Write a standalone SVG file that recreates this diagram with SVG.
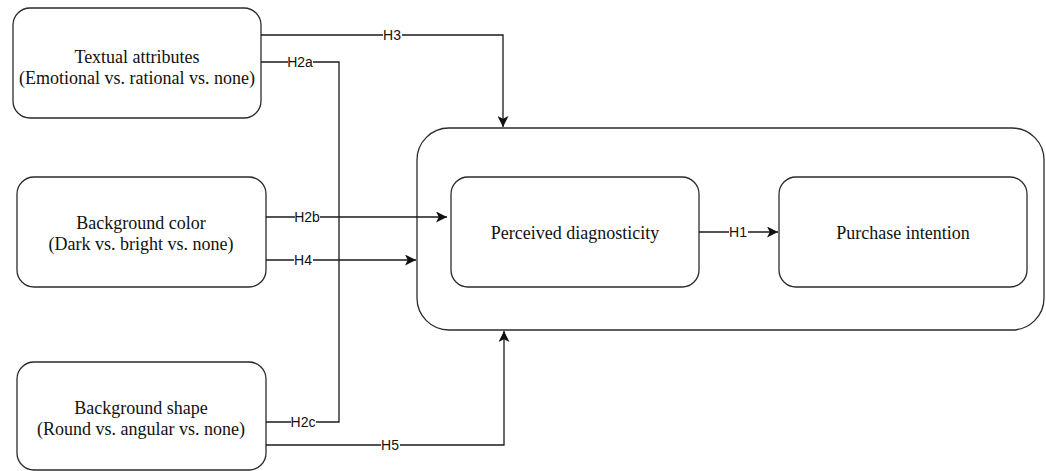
<svg xmlns="http://www.w3.org/2000/svg" width="1046" height="471" viewBox="0 0 1046 471">
<style>
.box{fill:#fff;stroke:#2b2b2b;stroke-width:1.3}
.t{font-family:"Liberation Serif","Times New Roman",serif;font-size:18px;fill:#111;text-anchor:middle}
.e{fill:none;stroke:#1a1a1a;stroke-width:1.3}
.lb{font-family:"Liberation Sans",Arial,sans-serif;font-size:14px;fill:#111;text-anchor:middle;dominant-baseline:central}
.bg{fill:#fff}
</style>
<defs>
<marker id="arr" viewBox="0 0 10 10" refX="10" refY="5" markerWidth="11" markerHeight="11" markerUnits="userSpaceOnUse" orient="auto">
<path d="M0,0 L10,5 L0,10 L2.5,5 Z" fill="#111"/>
</marker>
</defs>
<rect width="1046" height="471" fill="#fff"/>
<g id="outer">
<rect class="box" x="417" y="128" width="627" height="202" rx="32" ry="32"/>
</g>
<g id="textual">
<rect class="box" x="13" y="8" width="248" height="110" rx="17" ry="17"/>
<text class="t" x="137" y="63">Textual attributes</text>
<text class="t" x="137" y="84">(Emotional vs. rational vs. none)</text>
</g>
<g id="color">
<rect class="box" x="17" y="177" width="249" height="110" rx="17" ry="17"/>
<text class="t" x="141" y="229">Background color</text>
<text class="t" x="141" y="250">(Dark vs. bright vs. none)</text>
</g>
<g id="shape">
<rect class="box" x="17" y="362" width="249" height="108" rx="17" ry="17"/>
<text class="t" x="141" y="414">Background shape</text>
<text class="t" x="141" y="435">(Round vs. angular vs. none)</text>
</g>
<g id="diag">
<rect class="box" x="451" y="177" width="248" height="110" rx="17" ry="17"/>
<text class="t" x="575" y="239">Perceived diagnosticity</text>
</g>
<g id="purchase">
<rect class="box" x="779" y="177" width="248" height="110" rx="17" ry="17"/>
<text class="t" x="903" y="239">Purchase intention</text>
</g>
<g id="connectors">
<path class="e" d="M261,35 H503 V127" marker-end="url(#arr)"/>
<path class="e" d="M261,62 H339 V422 H266"/>
<path class="e" d="M266,217 H447" marker-end="url(#arr)"/>
<path class="e" d="M266,260 H416" marker-end="url(#arr)"/>
<path class="e" d="M266,445 H504 V331" marker-end="url(#arr)"/>
<path class="e" d="M699,232 H778" marker-end="url(#arr)"/>
<rect class="bg" x="383" y="28" width="19" height="14"/><text class="lb" x="392" y="35">H3</text>
<rect class="bg" x="288" y="55" width="25" height="14"/><text class="lb" x="300" y="62">H2a</text>
<rect class="bg" x="295" y="210" width="25" height="14"/><text class="lb" x="307" y="217">H2b</text>
<rect class="bg" x="294" y="253" width="19" height="14"/><text class="lb" x="303" y="260">H4</text>
<rect class="bg" x="291" y="415" width="25" height="14"/><text class="lb" x="303" y="422">H2c</text>
<rect class="bg" x="381" y="438" width="19" height="14"/><text class="lb" x="390" y="445">H5</text>
<rect class="bg" x="729" y="225" width="19" height="14"/><text class="lb" x="738" y="232">H1</text>
</g>
</svg>
